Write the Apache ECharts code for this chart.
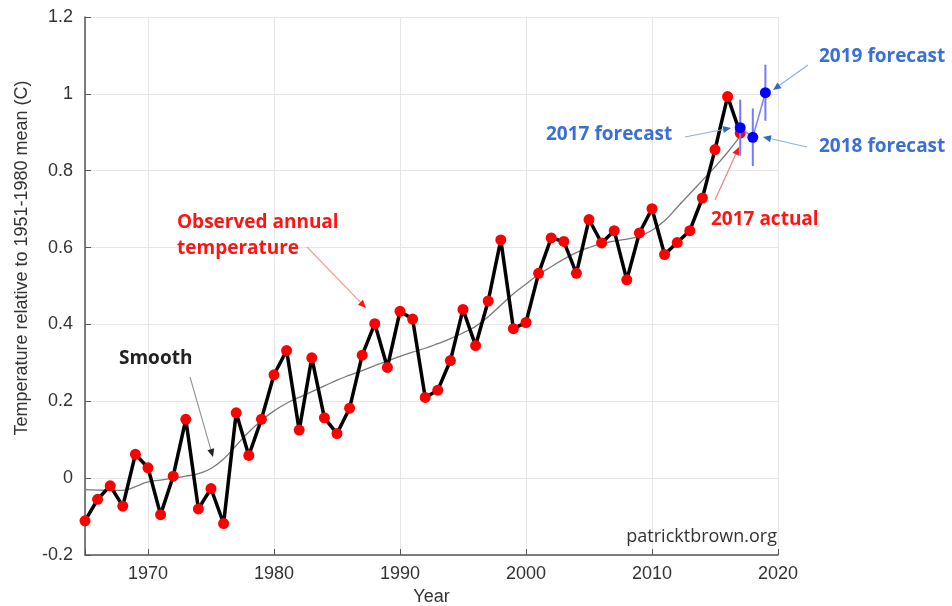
<!DOCTYPE html>
<html>
<head>
<meta charset="utf-8">
<script src="https://cdn.jsdelivr.net/npm/echarts@6/dist/echarts.min.js"></script>
<style>
html,body{margin:0;padding:0;background:#fff}
#main{width:952px;height:606px}
</style>
</head>
<body>
<div id="main"></div>
<script>
// annual temperature anomaly vs 1951-1980 mean
const years = [1965,1966,1967,1968,1969,1970,1971,1972,1973,1974,1975,1976,1977,1978,1979,
  1980,1981,1982,1983,1984,1985,1986,1987,1988,1989,1990,1991,1992,1993,1994,1995,1996,1997,
  1998,1999,2000,2001,2002,2003,2004,2005,2006,2007,2008,2009,2010,2011,2012,2013,2014,2015,2016,2017]
const observed = [-0.111,-0.055,-0.020,-0.073,0.062,0.027,-0.095,0.005,0.153,-0.080,-0.027,-0.118,0.170,0.059,0.153,
  0.269,0.332,0.125,0.313,0.157,0.116,0.182,0.320,0.402,0.288,0.434,0.414,0.210,0.229,0.306,0.439,0.345,0.461,
  0.620,0.389,0.405,0.533,0.625,0.616,0.533,0.673,0.612,0.644,0.516,0.638,0.701,0.582,0.613,0.644,0.729,0.855,0.993,0.898]
const smooth = [-0.030,-0.031,-0.032,-0.032,-0.022,-0.010,-0.005,0.000,0.005,0.012,0.025,0.050,0.085,0.120,0.150,
  0.175,0.195,0.210,0.225,0.240,0.255,0.268,0.280,0.293,0.305,0.317,0.328,0.338,0.350,0.363,0.378,0.395,0.420,
  0.450,0.480,0.505,0.530,0.550,0.570,0.587,0.600,0.610,0.617,0.622,0.630,0.645,0.670,0.705,0.740,0.775,0.810,0.848,0.890]
const forecastYears = [2017,2018,2019]
const forecastValues = [0.912,0.887,1.003]
const forecastErr = [0.073,0.075,0.073]

const tickFont = '"Liberation Sans", Arial, sans-serif'
const noteFont = '"Open Sans", sans-serif'

const chart = echarts.init(document.getElementById('main'))

function arrow(x1,y1,x2,y2,lineColor,headColor){
  const ang = Math.atan2(y2-y1,x2-x1)
  const L = 8, W = 3.5
  const bx = x2-L*Math.cos(ang), by = y2-L*Math.sin(ang)
  const px = -Math.sin(ang), py = Math.cos(ang)
  return [
    {type:'line',shape:{x1:x1,y1:y1,x2:bx,y2:by},style:{stroke:lineColor,lineWidth:1.2},z:10},
    {type:'polygon',shape:{points:[[x2,y2],[bx+px*W,by+py*W],[bx-px*W,by-py*W]]},style:{fill:headColor},z:10}
  ]
}
function note(text,x,y,color,extra){
  return {
    type:'text',x:x,y:y,z:10,
    style:Object.assign({text:text,fill:color,font:'bold 19px '+noteFont,
      textAlign:'left',textVerticalAlign:'middle'},extra||{})
  }
}

const blueText = '#3a6fd6'
const blueLine = '#93b0d6'
const blueHead = '#2f6db5'
const red = '#ff1414'

const option = {
  animation:false,
  backgroundColor:'#fff',
  grid:{left:85,right:174,top:17,bottom:51,outerBoundsMode:'none',containLabel:false},
  xAxis:{
    type:'value',min:1965,max:2020,splitNumber:5,
    name:'Year',nameLocation:'middle',nameGap:31,
    nameTextStyle:{color:'#333',fontSize:18,fontFamily:tickFont},
    axisLine:{show:true,onZero:false,lineStyle:{color:'#555',width:1.5}},
    axisTick:{show:true,inside:true,length:6,lineStyle:{color:'#555'}},
    axisLabel:{color:'#333',fontSize:18,fontFamily:tickFont,margin:10,
      formatter:v=>(v%10===0?String(v):'')},
    splitLine:{show:true,lineStyle:{color:'#e6e6e6',width:1}}
  },
  yAxis:{
    type:'value',min:-0.2,max:1.2,interval:0.2,
    axisLine:{show:true,onZero:false,lineStyle:{color:'#555',width:1.5}},
    axisTick:{show:true,inside:true,length:6,lineStyle:{color:'#555'}},
    axisLabel:{color:'#333',fontSize:18,fontFamily:tickFont,margin:12,
      formatter:v=>String(+v.toFixed(1))},
    splitLine:{show:true,lineStyle:{color:'#e6e6e6',width:1}}
  },
  series:[
    {
      name:'Smooth',type:'line',
      data:years.map((y,i)=>[y,smooth[i]]),
      showSymbol:false,smooth:true,
      lineStyle:{color:'#7a7a7a',width:1.3},z:2
    },
    {
      name:'Observed',type:'line',clip:false,
      data:years.map((y,i)=>[y,observed[i]]),
      symbol:'circle',symbolSize:11,
      lineStyle:{color:'#000',width:3.5},
      itemStyle:{color:'#ff0000'},z:3
    },
    {
      name:'Error',type:'custom',clip:false,
      data:forecastYears.map((y,i)=>[y,forecastValues[i],forecastErr[i]]),
      renderItem:(params,api)=>{
        const x = api.value(0), v = api.value(1), e = api.value(2)
        const top = api.coord([x,v+e]), bot = api.coord([x,v-e])
        return {type:'line',shape:{x1:top[0],y1:top[1],x2:bot[0],y2:bot[1]},
          style:{stroke:'#7878ff',lineWidth:2}}
      },z:4
    },
    {
      name:'Forecast',type:'line',clip:false,
      data:forecastYears.map((y,i)=>[y,forecastValues[i]]),
      symbol:'circle',symbolSize:11,
      lineStyle:{color:'#8080ff',width:1.5},
      itemStyle:{color:'#0000ff'},z:5
    }
  ],
  graphic:[
    {type:'text',x:22,y:258,rotation:Math.PI/2,z:10,
      style:{text:'Temperature relative to 1951-1980 mean (C)',fill:'#333',
        font:'18px '+tickFont,textAlign:'center',textVerticalAlign:'middle'}},
    {type:'text',x:777,y:537,z:10,
      style:{text:'patricktbrown.org',fill:'#333',font:'18px '+noteFont,
        textAlign:'right',textVerticalAlign:'middle'}},
    note('Observed annual\ntemperature',177,210,red,{textVerticalAlign:'top',lineHeight:26}),
    note('Smooth',119,359,'#222'),
    note('2017 forecast',546,135,blueText),
    note('2017 actual',711,220,red),
    note('2018 forecast',819,147,blueText),
    note('2019 forecast',819,57,blueText),
    ...arrow(307,247,366,308,'#f4a0a0',red),
    ...arrow(190,377,213,457,'#999','#222'),
    ...arrow(685,137,731,128,blueLine,blueHead),
    ...arrow(715,200,739,147,'#f08080',red),
    ...arrow(807,147,763,137,blueLine,blueHead),
    ...arrow(808,65,773,90,blueLine,blueHead)
  ]
}
chart.setOption(option)
</script>
</body>
</html>
